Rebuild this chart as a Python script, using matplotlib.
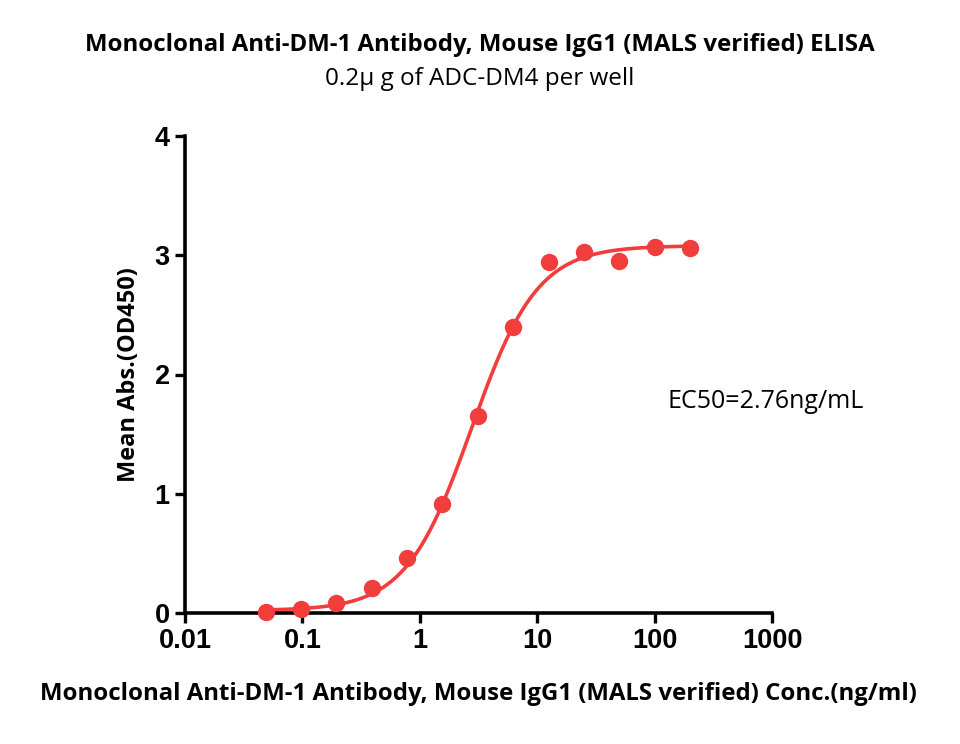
import numpy as np
import matplotlib
matplotlib.use("Agg")
import matplotlib.pyplot as plt

conc = [0.0488, 0.0977, 0.195, 0.39, 0.78, 1.56, 3.125, 6.25, 12.5, 25, 50, 100, 200]
od450 = [0.005, 0.033, 0.08, 0.21, 0.46, 0.91, 1.65, 2.40, 2.94, 3.03, 2.95, 3.065, 3.06]

# 4PL fit parameters
fit_bottom = 0.02
fit_top = 3.08
fit_ec50 = 2.76
fit_hill = 1.55

xticks = [0.01, 0.1, 1, 10, 100, 1000]
xticklabels = ["0.01", "0.1", "1", "10", "100", "1000"]
yticks = [0, 1, 2, 3, 4]

red = "#F23D3D"

fig = plt.figure(figsize=(9.6, 7.44), dpi=100)
ax = fig.add_axes([185/960, 1-613/744, (772-185)/960, (613-136)/744])

xs = np.logspace(np.log10(conc[0]), np.log10(conc[-1]), 300)
ys = fit_bottom + (fit_top - fit_bottom) / (1 + (fit_ec50 / xs) ** fit_hill)
ax.plot(xs, ys, color=red, lw=2.6, zorder=2)
ax.plot(conc, od450, 'o', color=red, ms=11.5, mec=red, zorder=3, clip_on=False)

ax.set_xscale('log')
ax.set_xlim(0.01, 1000)
ax.set_ylim(0, 4)
ax.set_xticks(xticks)
ax.set_xticklabels(xticklabels)
ax.minorticks_off()
ax.set_yticks(yticks)

for s in ['top', 'right']:
    ax.spines[s].set_visible(False)
for s in ['left', 'bottom']:
    ax.spines[s].set_linewidth(2.6)
ax.tick_params(axis='both', width=2.4, length=7, direction='out',
               labelsize=19.5, pad=4)
for lab in ax.get_xticklabels() + ax.get_yticklabels():
    lab.set_fontfamily('Liberation Sans')
    lab.set_fontweight('bold')

ax.set_ylabel("Mean Abs.(OD450)", fontsize=17, fontweight='bold',
              fontfamily='Open Sans', labelpad=10)
ax.set_xlabel("Monoclonal Anti-DM-1 Antibody, Mouse IgG1 (MALS verified) Conc.(ng/ml)",
              fontsize=17.3, fontweight='bold', fontfamily='Open Sans', labelpad=20)

fig.text(0.5, 1-45/744, "Monoclonal Anti-DM-1 Antibody, Mouse IgG1 (MALS verified) ELISA",
         ha='center', va='center', fontsize=17.3, fontweight='bold', fontfamily='Open Sans')
fig.text(0.5, 1-79/744, "0.2μ g of ADC-DM4 per well",
         ha='center', va='center', fontsize=17.5, fontfamily='Open Sans')
ax.text(668/960, 1-402/744, "EC50=2.76ng/mL", transform=fig.transFigure,
        ha='left', va='center', fontsize=18, fontfamily='Open Sans')

fig.savefig("out.png", dpi=100, facecolor='white')
